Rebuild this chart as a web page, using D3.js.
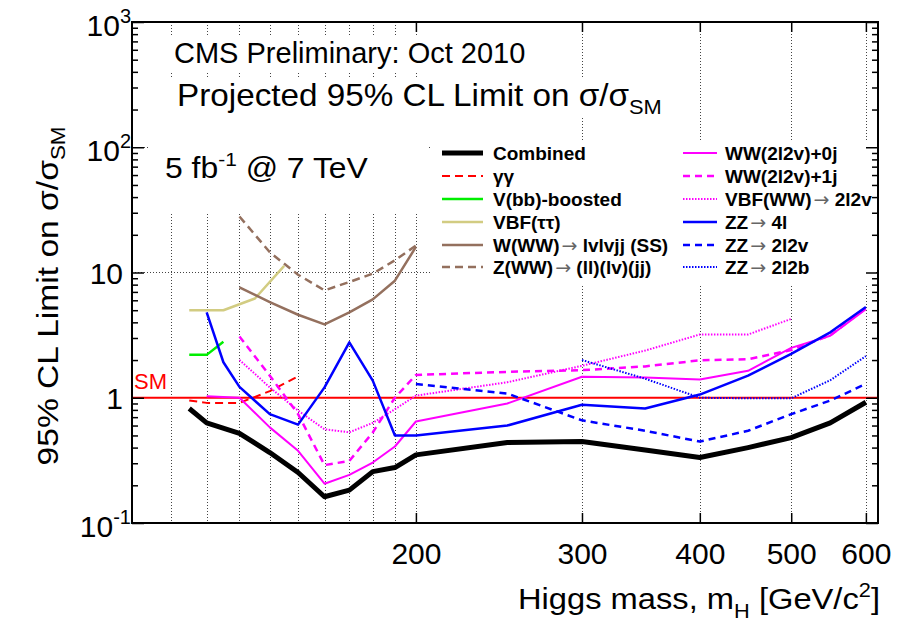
<!DOCTYPE html>
<html>
<head>
<meta charset="utf-8">
<script src="https://cdn.jsdelivr.net/npm/d3@7"></script>
<style>
  body { margin: 0; background: #fff; }
  svg { display: block; }
  text { font-family: "Liberation Sans", Arial, Helvetica, sans-serif; }
</style>
</head>
<body>
<svg id="chart" width="910" height="626"></svg>
<script>
// Expected 95% CL upper limits on sigma/sigma_SM versus Higgs mass (GeV/c^2)
const combinedMass  = [115, 120, 130, 140, 150, 160, 170, 180, 190, 200, 250, 300, 350, 400, 450, 500, 550, 600];
const combinedLimit = [0.82, 0.63, 0.52, 0.365, 0.253, 0.162, 0.183, 0.257, 0.277, 0.35, 0.44, 0.447, 0.382, 0.333, 0.40, 0.48, 0.63, 0.92];

const ggMass  = [115, 120, 130, 140, 150];
const ggLimit = [0.95, 0.91, 0.91, 1.13, 1.48];

const vbbMass  = [115, 120, 125];
const vbbLimit = [2.2, 2.2, 2.8];

const vbfTauMass  = [115, 125, 135, 145];
const vbfTauLimit = [5.0, 5.0, 6.2, 11.3];

const wwwMass  = [130, 140, 150, 160, 170, 180, 190, 200];
const wwwLimit = [7.6, 5.8, 4.6, 3.85, 4.8, 6.1, 8.6, 16.0];

const zwwMass  = [130, 140, 150, 160, 170, 180, 190, 200];
const zwwLimit = [28.0, 14.5, 9.6, 7.2, 8.4, 9.8, 12.5, 16.4];

const ww0jMass  = [120, 130, 140, 150, 160, 170, 180, 190, 200, 250, 300, 350, 400, 450, 500, 550, 600];
const ww0jLimit = [1.03, 1.0, 0.58, 0.377, 0.206, 0.242, 0.304, 0.408, 0.646, 0.90, 1.47, 1.45, 1.40, 1.64, 2.5, 3.13, 5.1];

const ww1jMass  = [130, 140, 150, 160, 170, 180, 190, 200, 250, 300, 350, 400, 450, 500, 550, 600];
const ww1jLimit = [3.08, 1.5, 0.74, 0.29, 0.313, 0.528, 1.0, 1.52, 1.61, 1.66, 1.78, 1.99, 2.03, 2.4, 3.15, 5.2];

const vbfWWMass  = [130, 140, 150, 160, 170, 180, 190, 200, 250, 300, 350, 400, 450, 500];
const vbfWWLimit = [2.0, 1.21, 0.79, 0.56, 0.53, 0.63, 0.81, 1.04, 1.33, 1.8, 2.38, 3.2, 3.2, 4.26];

const zz4lMass  = [120, 125, 130, 140, 150, 160, 170, 180, 190, 200, 250, 300, 350, 400, 450, 500, 550, 600];
const zz4lLimit = [4.8, 1.92, 1.22, 0.74, 0.61, 1.21, 2.77, 1.37, 0.50, 0.50, 0.60, 0.88, 0.82, 1.06, 1.5, 2.24, 3.33, 5.3];

const zz2l2vMass  = [200, 250, 300, 350, 400, 450, 500, 550, 600];
const zz2l2vLimit = [1.29, 1.08, 0.66, 0.545, 0.447, 0.545, 0.74, 0.95, 1.29];

const zz2l2bMass  = [300, 350, 400, 450, 500, 550, 600];
const zz2l2bLimit = [2.0, 1.42, 1.0, 0.99, 0.99, 1.38, 2.15];

// Axis ticks and grid
const yDecades   = [0.1, 1, 10, 100, 1000];
const yLabelExp  = ["-1", "", "", "2", "3"];
const yLabelBase = ["10", "1", "10", "10", "10"];
const xTickLabels = [200, 300, 400, 500, 600];
const gridMasses  = [110, 120, 130, 140, 150, 160, 170, 180, 190, 200, 300, 400, 500, 600];
const gridLimits  = [10, 100];
const smLevel = 1;

const legendLeft  = ["Combined", "γγ", "V(bb)-boosted", "VBF(ττ)", "W(WW)→ lvlvjj (SS)", "Z(WW)→ (ll)(lv)(jj)"];
const legendRight = ["WW(2l2v)+0j", "WW(2l2v)+1j", "VBF(WW)→ 2l2v", "ZZ→ 4l", "ZZ→ 2l2v", "ZZ→ 2l2b"];

const svg = d3.select("#chart");
const W = 910, H = 626;
const x = d3.scaleLog().domain([100, 618]).range([132, 878]);
const y = d3.scaleLog().domain([0.1, 1000]).range([523, 22]);

svg.append("rect").attr("width", W).attr("height", H).attr("fill", "#fff");

// dotted grid
const grid = svg.append("g").attr("stroke", "#444").attr("stroke-width", 1).attr("stroke-dasharray", "1,2");
grid.selectAll("line.v").data(gridMasses).join("line")
  .attr("x1", d => Math.round(x(d)) + 0.5).attr("x2", d => Math.round(x(d)) + 0.5)
  .attr("y1", y(1000)).attr("y2", y(0.1));
grid.selectAll("line.h").data(gridLimits).join("line")
  .attr("y1", d => Math.round(y(d)) + 0.5).attr("y2", d => Math.round(y(d)) + 0.5)
  .attr("x1", x(100)).attr("x2", x(618));

// white text panels
const panels = [
  [170, 35, 365, 36],
  [170, 77, 495, 41],
  [150, 118, 278, 94],
  [430, 140, 446, 144]
];
svg.selectAll("rect.panel").data(panels).join("rect")
  .attr("x", d => d[0]).attr("y", d => d[1]).attr("width", d => d[2]).attr("height", d => d[3])
  .attr("fill", "#fff");

// series styles
const series = [
  { key: "Combined", mass: combinedMass, limit: combinedLimit, color: "#000000", width: 5, dash: null },
  { key: "γγ", mass: ggMass, limit: ggLimit, color: "#ff0000", width: 2, dash: "8,5" },
  { key: "V(bb)-boosted", mass: vbbMass, limit: vbbLimit, color: "#00ee00", width: 2.5, dash: null },
  { key: "VBF(ττ)", mass: vbfTauMass, limit: vbfTauLimit, color: "#d2cc82", width: 2.5, dash: null },
  { key: "W(WW)→ lvlvjj (SS)", mass: wwwMass, limit: wwwLimit, color: "#94705e", width: 2.5, dash: null },
  { key: "Z(WW)→ (ll)(lv)(jj)", mass: zwwMass, limit: zwwLimit, color: "#94705e", width: 2.5, dash: "8,5" },
  { key: "WW(2l2v)+0j", mass: ww0jMass, limit: ww0jLimit, color: "#ff00ff", width: 2, dash: null },
  { key: "WW(2l2v)+1j", mass: ww1jMass, limit: ww1jLimit, color: "#ff00ff", width: 2.5, dash: "7,5" },
  { key: "VBF(WW)→ 2l2v", mass: vbfWWMass, limit: vbfWWLimit, color: "#ff00ff", width: 2, dash: "1.5,1.5" },
  { key: "ZZ→ 4l", mass: zz4lMass, limit: zz4lLimit, color: "#0000ff", width: 2.5, dash: null },
  { key: "ZZ→ 2l2v", mass: zz2l2vMass, limit: zz2l2vLimit, color: "#0000ff", width: 2.5, dash: "7,5" },
  { key: "ZZ→ 2l2b", mass: zz2l2bMass, limit: zz2l2bLimit, color: "#0000ff", width: 2, dash: "1.5,1.5" }
];
const styleOf = k => series.find(s => s.key === k);

const line = d3.line().x(d => x(d[0])).y(d => y(d[1]));

// SM reference line
svg.append("line")
  .attr("x1", x(100)).attr("x2", x(618))
  .attr("y1", y(smLevel)).attr("y2", y(smLevel))
  .attr("stroke", "#ff0000").attr("stroke-width", 2);
svg.append("text").attr("x", 134).attr("y", y(smLevel) - 9)
  .attr("font-size", 22).attr("fill", "#ff0000").text("SM");

// limit curves (combined drawn last, on top)
const order = series.slice(1).concat([series[0]]);
svg.append("g").selectAll("path").data(order).join("path")
  .attr("d", s => line(s.mass.map((m, i) => [m, s.limit[i]])))
  .attr("fill", "none")
  .attr("stroke", s => s.color)
  .attr("stroke-width", s => s.width)
  .attr("stroke-dasharray", s => s.dash)
  .attr("stroke-linejoin", "round");

// frame
svg.append("rect").attr("x", x(100)).attr("y", y(1000))
  .attr("width", x(618) - x(100)).attr("height", y(0.1) - y(1000))
  .attr("fill", "none").attr("stroke", "#000").attr("stroke-width", 2);

// y axes: ticks pointing inward on both sides
const minorY = [];
[0.1, 1, 10, 100].forEach(dec => { for (let k = 2; k <= 9; k++) minorY.push(dec * k); });
const axL = d3.axisLeft(y).tickValues(yDecades).tickSizeInner(-12).tickSizeOuter(0).tickFormat("");
const axLm = d3.axisLeft(y).tickValues(minorY).tickSizeInner(-6).tickSizeOuter(0).tickFormat("");
const axR = d3.axisRight(y).tickValues(yDecades).tickSizeInner(-12).tickSizeOuter(0).tickFormat("");
const axRm = d3.axisRight(y).tickValues(minorY).tickSizeInner(-6).tickSizeOuter(0).tickFormat("");
[[axL, 132], [axLm, 132], [axR, 878], [axRm, 878]].forEach(([ax, px]) => {
  const g = svg.append("g").attr("transform", `translate(${px},0)`).call(ax);
  g.select(".domain").remove();
  g.selectAll("line").attr("stroke", "#000").attr("stroke-width", 1.5);
});

// y labels with powers of ten
const yl = svg.append("g").attr("font-size", 30).attr("fill", "#000");
yDecades.forEach((v, i) => {
  const t = yl.append("text")
    .attr("x", yLabelExp[i] ? 131 : 123)
    .attr("y", y(v) + (yLabelExp[i] ? 14 : 11))
    .attr("text-anchor", "end");
  t.append("tspan").text(yLabelBase[i]);
  if (yLabelExp[i]) t.append("tspan").attr("font-size", 20).attr("dy", -13).text(yLabelExp[i]);
});

// x axis
const axB = d3.axisBottom(x).tickValues(xTickLabels).tickSizeInner(-10).tickSizeOuter(0)
  .tickPadding(20).tickFormat(d3.format("d"));
const gB = svg.append("g").attr("transform", `translate(0,${y(0.1)})`).call(axB);
gB.select(".domain").remove();
gB.selectAll("line").attr("stroke", "#000").attr("stroke-width", 1.5);
gB.selectAll("text").attr("font-size", 30).attr("fill", "#000")
  .attr("font-family", "\"Liberation Sans\", Arial, sans-serif");
const axT = d3.axisTop(x).tickValues(xTickLabels).tickSizeInner(-10).tickSizeOuter(0).tickFormat("");
const gT = svg.append("g").attr("transform", `translate(0,${y(1000)})`).call(axT);
gT.select(".domain").remove();
gT.selectAll("line").attr("stroke", "#000").attr("stroke-width", 1.5);

// axis titles
const xt = svg.append("text").attr("transform", "translate(880,609) scale(1.09,1)")
  .attr("text-anchor", "end").attr("font-size", 30).attr("fill", "#000");
xt.append("tspan").text("Higgs mass, m");
xt.append("tspan").attr("font-size", 20).attr("dy", 9).text("H");
xt.append("tspan").attr("dy", -9).text(" [GeV/c");
xt.append("tspan").attr("font-size", 20).attr("dy", -12).text("2");
xt.append("tspan").attr("dy", 12).text("]");

const yt = svg.append("text").attr("transform", "translate(58,296) rotate(-90) scale(1.12,1)")
  .attr("text-anchor", "middle").attr("font-size", 30).attr("fill", "#000");
yt.append("tspan").text("95% CL Limit on σ/σ");
yt.append("tspan").attr("font-size", 20).attr("dy", 7).text("SM");

// headings
svg.append("text").attr("x", 174).attr("y", 63).attr("font-size", 29).attr("fill", "#000")
  .text("CMS Preliminary: Oct 2010");
const pt = svg.append("text").attr("transform", "translate(177,106) scale(1.04,1)")
  .attr("font-size", 32).attr("fill", "#000");
pt.append("tspan").text("Projected 95% CL Limit on σ/σ");
pt.append("tspan").attr("font-size", 21).attr("dy", 8).text("SM");
const lt = svg.append("text").attr("transform", "translate(165,178) scale(1.1,1)")
  .attr("font-size", 29).attr("fill", "#000");
lt.append("tspan").text("5 fb");
lt.append("tspan").attr("font-size", 19).attr("dy", -12).text("-1");
lt.append("tspan").attr("dy", 12).text(" @ 7 TeV");

// legend
const rowY = [153, 176, 199, 222, 245, 267];
const cols = [
  { labels: legendLeft, x1: 442, x2: 483, tx: 493 },
  { labels: legendRight, x1: 683, x2: 717, tx: 725 }
];
const lg = svg.append("g");
cols.forEach(c => {
  c.labels.forEach((lab, i) => {
    const s = styleOf(lab);
    lg.append("line").attr("x1", c.x1).attr("x2", c.x2).attr("y1", rowY[i]).attr("y2", rowY[i])
      .attr("stroke", s.color).attr("stroke-width", s.width).attr("stroke-dasharray", s.dash);
    const t = lg.append("text").attr("x", c.tx).attr("y", rowY[i] + 7)
      .attr("font-size", 19).attr("font-weight", "bold").attr("fill", "#000");
    lab.split(/(→)/).forEach(part => {
      if (!part) return;
      if (part === "→") {
        t.append("tspan").attr("font-family", "\"DejaVu Sans\", sans-serif")
          .attr("font-weight", "normal").attr("dx", 2).attr("fill", "#666").text(part);
      } else {
        t.append("tspan").text(part);
      }
    });
  });
});
</script>
</body>
</html>
